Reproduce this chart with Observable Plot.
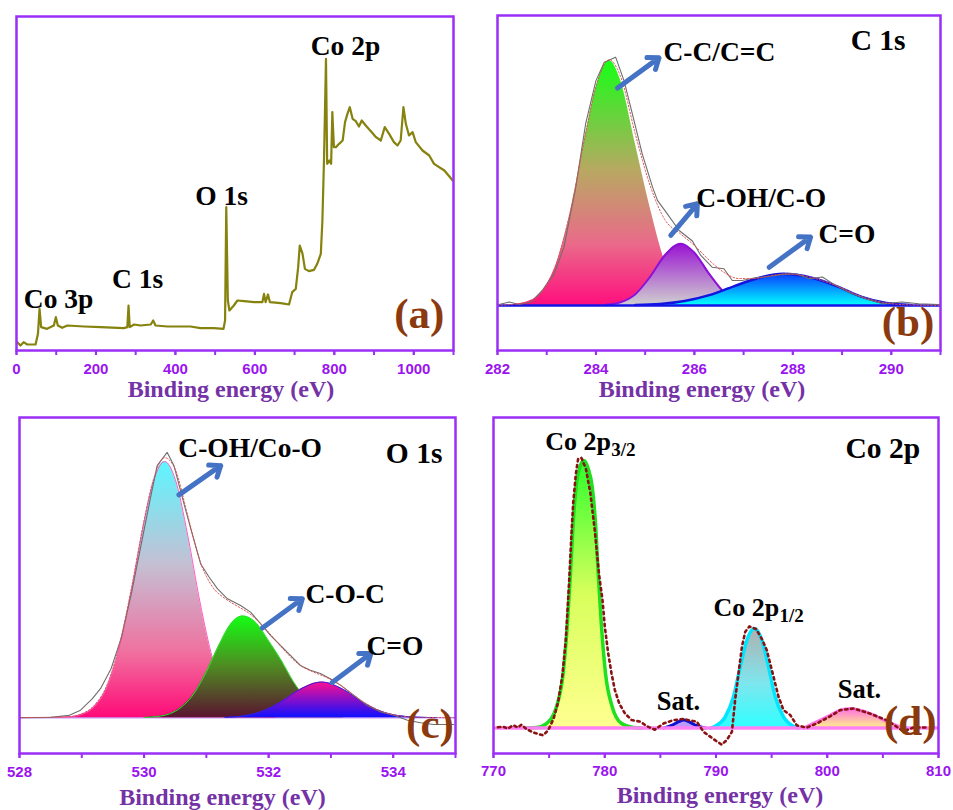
<!DOCTYPE html>
<html><head><meta charset="utf-8">
<script src="https://cdn.jsdelivr.net/npm/d3@7"></script>
<script src="https://cdn.jsdelivr.net/npm/@observablehq/plot@0.6"></script>
<style>
body{margin:0;background:#fff;}
#wrap{position:relative;width:953px;height:810px;overflow:hidden;background:#fff;}
#wrap svg{position:absolute;overflow:visible;}
</style></head><body><div id="wrap"></div>
<script>
// ---------- (a) survey ----------
const surveyBE = [2,10,18,27,48,54,58,62,77,94,99,104,115,128,170,212,270,279,282,285,296,312,338,344,350,380,438,463,497,521,525,528,532,536,547,556,573,598,619,623,627,633,638,665,686,694,703,709,713,720,726,736,749,757,766,770,774,777,779,782,788,792,795,799,804,812,821,827,833,839,846,854,862,869,879,892,905,917,927,938,950,959,967,974,980,988,997,1005,1022,1039,1051,1077,1098];
const surveyI = [2.5,1.5,2.5,1.8,1.8,5,12.5,7,6.5,7.5,10,7.5,6.8,7.5,7.2,7,6.7,7,13.5,7,7.8,7.5,7.8,9,7.5,7.2,7.2,6.7,6.7,6.5,9,43,15,12,13.5,15,14.8,14.5,14.5,17,14.5,16.8,14.5,14.2,13.8,17.5,18.5,25,31.5,29,24.5,23.8,24.2,26,29,39,57,75,87.5,56,57,56,71.5,61,61,62,63,68.5,71,73,69.5,68.8,67.2,69,67.5,65.8,64,63,67,65,62.5,61.5,63,73,68,64.5,65.5,62.5,60,58.5,56,54,51];
const labelsA = ["Co 3p","C 1s","O 1s","Co 2p"];
const labelsA_x = [106,305,516,828];
const labelsA_y = [12.8,18.9,43.8,88.8];

// ---------- (b) C 1s ----------
const rawB_BE = [282.03,282.24,282.44,282.68,282.91,283.15,283.35,283.59,283.79,284.0,284.17,284.4,284.57,284.74,284.94,285.15,285.25,285.45,285.69,285.96,286.13,286.36,286.6,286.77,286.97,287.24,287.52,287.79,288.06,288.33,288.6,288.87,289.14,289.48,289.82,290.22,290.56,290.97];
const rawB_I = [0.4,1.4,0.4,1.4,6.1,12.9,23.8,48.3,74.1,91.8,99.3,101.4,91.8,78.2,61.9,48.3,42.9,37.4,30.6,26.3,20.4,15.6,15.0,10.2,10.2,11.3,11.8,12.7,12.9,10.9,11.6,8.2,5.4,2.7,0.7,1.4,0.7,0.4];
const fitB_BE = [282.0,282.6,282.9,283.2,283.5,283.8,284.0,284.27,284.5,284.8,285.1,285.4,285.7,286.0,286.3,286.6,286.9,287.2,287.6,287.9,288.4,288.9,289.4,289.9,290.4,291.0];
const fitB_I = [0,1.4,5.6,17.3,40.2,71.1,89.2,100.3,93.5,70,49,35,29.5,24.5,18.5,13.5,11,11,12.3,12.9,11.3,7.9,3.6,1.0,0.2,0];
const ccB_BE = [282.3,282.6,282.9,283.2,283.5,283.8,284.0,284.27,284.5,284.8,285.1,285.4,285.7,286.0,286.3];
const ccB_I = [0.3,1.4,5.6,17.2,40,71,89,100,92,66,40,18,6,1.5,0.2];
const cohB_BE = [284.2,284.5,284.8,285.1,285.4,285.72,286.0,286.3,286.6,286.9,287.2];
const cohB_I = [0.25,1.3,4.6,11.7,20.5,25.2,21.5,12.9,5.4,1.6,0.3];
const coB_BE = [284.8,285.3,285.8,286.3,286.8,287.3,287.8,288.4,288.9,289.4,289.9,290.4];
const coB_I = [0.2,0.6,1.8,4.2,7.8,11.2,12.9,11.2,7.8,3.5,1.0,0.2];
const labelsB = ["C-C/C=C","C-OH/C-O","C=O"];
const labelsB_x = [285.37,286.04,288.52];
const labelsB_y = [100,40.1,25.4];
const arrowsB_x1 = [284.44,285.52,287.52], arrowsB_y1 = [88.8,28.6,15.6];
const arrowsB_x2 = [285.28,286.06,288.36], arrowsB_y2 = [101.1,41.5,27.9];

// ---------- (c) O 1s ----------
const rawC_BE = [528.0,528.5,528.8,528.98,529.17,529.3,529.47,529.63,529.79,529.95,530.11,530.21,530.37,530.48,530.62,530.75,530.91,531.04,531.18,531.34,531.55,531.71,531.87,532.03,532.19,532.35,532.51,532.67,532.83,532.99,533.16,533.37,533.58,533.8,534.01,534.23,534.44,534.65,534.97];
const rawC_I = [0,0.1,0.9,2.9,7.4,11.3,19.1,30.8,47.7,67.2,86.7,98.4,103.6,98.4,85.4,73.7,60,55,50.3,46.4,43.8,41.2,36.7,32.1,28.2,24.3,20.4,18.5,17.2,15.2,12.6,8.7,4.8,2.2,0.9,-1.0,-2.0,-2.7,-2.7];
const fitC_BE = [528,528.8,529.0,529.2,529.4,529.6,529.8,530.0,530.15,530.33,530.5,530.7,530.9,531.1,531.3,531.5,531.7,531.9,532.1,532.3,532.5,532.7,532.9,533.1,533.3,533.5,533.8,534.1,534.4,535];
const fitC_I = [0,0.4,1.5,4.8,12.5,28,51,77,93,101.5,97,79,61,51,46.5,43.5,40.5,36,30.5,25,20.5,18,16,13.5,10,6.5,2.6,0.7,0.15,0];
const c1_BE = [528.6,528.8,529.0,529.2,529.4,529.6,529.8,530.0,530.15,530.33,530.5,530.7,530.9,531.1,531.3,531.5,531.7,531.9,532.1];
const c1_I = [0.05,0.3,1.3,4.3,11.8,26.8,50,76.4,92.3,100,93.1,71.3,44.8,23.1,9.8,3.4,1.0,0.2,0.05];
const c2_BE = [530.0,530.2,530.5,530.8,531.0,531.2,531.4,531.58,531.8,532.0,532.2,532.4,532.6,532.8,533.0,533.2];
const c2_I = [0.1,0.4,2.5,9.4,17.9,28.2,36.8,39.7,37,30,22.5,14,7.5,3.5,1.2,0.3];
const c3_BE = [531.3,531.6,531.9,532.2,532.5,532.85,533.2,533.5,533.8,534.1,534.4,534.7];
const c3_I = [0.1,0.7,2.5,6.2,11,13.9,11,6.2,2.5,0.7,0.15,0.02];
const labelsC = ["C-OH/Co-O","C-O-C","C=O"];
const labelsC_x = [530.55,532.59,533.57];
const labelsC_y = [101.7,44.9,24.3];
const arrowsC_x1 = [530.56,531.9,533.02], arrowsC_y1 = [87,35,13.7];
const arrowsC_x2 = [531.23,532.54,533.64], arrowsC_y2 = [98.4,46.4,25];

// ---------- (d) Co 2p ----------
const rawD_BE = [770.4,770.87,771.3,771.77,772.2,772.52,772.97,773.57,774.17,774.47,774.92,775.4,775.8,776.2,776.5,776.8,777.0,777.16,777.4,777.61,777.9,778.3,778.7,779.1,779.5,779.8,780.01,780.31,780.61,780.91,781.3,781.81,782.41,783.19,783.79,784.5,785.28,786.18,787.1,787.7,788.28,788.88,789.48,790.08,790.53,790.98,791.43,791.72,792.02,792.33,792.63,793.0,793.6,794.1,794.57,795.17,795.62,796.07,796.67,797.27,798.17,799.1,800.3,801.16,802.36,803.86,805.36,806.85,807.75,808.96];
const rawD_I = [0.3,0.5,-0.2,1.1,0.2,1.3,-0.4,-1.6,-2.4,-2.7,-0.8,3.5,9.5,20,33,55,72,84,95,100.7,101,97,88,74,57,47.8,37.8,27.9,20.4,14.2,9.2,5.5,3.0,2.4,0.7,-0.6,1.7,3.0,3.4,2.8,2.4,-1.4,-3.2,-5.0,-6.2,-4.4,-1.4,10.5,20.4,30.4,36,38,37,33.5,29.1,19.2,11.7,6.7,4.9,1.0,0.2,1.8,4.5,6.7,7.3,5.4,2.9,-1.2,0.2,0.2];
const p32_BE = [773.0,773.87,774.76,775.66,776.26,776.62,776.92,777.16,777.46,777.82,778.12,778.51,778.87,779.17,779.41,779.71,780.07,780.67,781.51,782.56,783.3];
const p32_I = [0,0.2,1.7,8.0,20.4,37.8,57.8,76.5,91.4,98.2,100,97,90.2,76.5,57.8,37.8,20.4,8.0,1.7,0.2,0];
const sat1_BE = [785.28,786.0,786.6,787.08,787.6,788.2,789.03];
const sat1_I = [0,1.0,2.3,3.0,2.3,1.0,0];
const p12_BE = [789.5,789.93,790.83,791.57,792.18,792.78,793.46,794.12,794.72,795.32,796.07,796.97,797.4];
const p12_I = [0,0.7,4.2,11.7,22.9,32.9,37.2,32.9,22.9,11.7,4.2,0.7,0];
const sat2_BE = [797.87,799.07,800.27,801.16,802.06,802.96,804.16,805.36,806.85];
const sat2_I = [0,2.4,4.9,6.7,7.3,6.7,4.9,2.4,0];
const labelsD = ["Co 2p","Co 2p","Sat.","Sat."];
const labelsD_x = [774.65,789.78,786.63,802.9];
const labelsD_y = [103.8,41.9,6.7,11.1];
const subsD = ["3/2","1/2"];

const serif = "'Liberation Serif','Times New Roman',serif";
const sans = "'Liberation Sans',Arial,sans-serif";
const violet = "#9b2ff7";
const tickColor = "#9a14f0";
const brown = "#8b3a0f";
const arrowBlue = "#4472c4";
const zip = (xs, ys) => xs.map((x, i) => ({x, y: ys[i]}));
const range = (a, b, s) => d3.range(a, b + s / 2, s);

function addGradients(svg, grads) {
  const ns = "http://www.w3.org/2000/svg";
  const defs = document.createElementNS(ns, "defs");
  for (const g of grads) {
    const lg = document.createElementNS(ns, "linearGradient");
    lg.setAttribute("id", g.id);
    lg.setAttribute("x1", "0"); lg.setAttribute("y1", "0");
    lg.setAttribute("x2", "0"); lg.setAttribute("y2", "1");
    for (const [o, c] of g.stops) {
      const s = document.createElementNS(ns, "stop");
      s.setAttribute("offset", o); s.setAttribute("stop-color", c);
      lg.appendChild(s);
    }
    defs.appendChild(lg);
  }
  svg.insertBefore(defs, svg.firstChild);
}

function panel(o) {
  const svg = Plot.plot({
    width: o.width, height: o.height,
    marginLeft: o.m[0], marginRight: o.m[1], marginTop: o.m[2], marginBottom: o.m[3],
    x: {domain: o.xDomain, label: null},
    y: {domain: o.yDomain, axis: null, label: null},
    style: {background: "transparent", overflow: "visible"},
    marks: [
      ...o.marks,
      Plot.axisX({ticks: o.minor, tickSize: 5, tickFormat: () => "", color: violet, strokeWidth: 2, label: null}),
      Plot.axisX({ticks: o.major, tickSize: 5, tickPadding: o.tickPadding ?? 8, tickFormat: d => String(d), color: violet, fill: tickColor, strokeWidth: 2, fontSize: 15, fontWeight: "bold", fontFamily: sans, label: null}),
      Plot.text(["Binding energy (eV)"], {frameAnchor: "bottom", dx: o.titleDx, dy: o.titleDy, lineAnchor: "bottom", fontFamily: serif, fontWeight: "bold", fontSize: 24, fill: "#7432a6"}),
      Plot.frame({stroke: violet, strokeWidth: 2.5})
    ]
  });
  if (o.gradients) addGradients(svg, o.gradients);
  svg.style.left = o.left + "px";
  svg.style.top = o.top + "px";
  document.getElementById("wrap").appendChild(svg);
}

const lab = (data, extra) => Plot.text(data, {x: "x", y: "y", text: "t", lineAnchor: "bottom", fontFamily: serif, fontWeight: "bold", fontSize: 27.5, fill: "black", ...extra});
const arrows = (x1, y1, x2, y2) => Plot.arrow(x1.map((v, i) => ({x1: v, y1: y1[i], x2: x2[i], y2: y2[i]})), {x1: "x1", y1: "y1", x2: "x2", y2: "y2", stroke: arrowBlue, strokeWidth: 5, headLength: 3.6, headAngle: 75});
const letter = (t, x, y) => Plot.text([{t, x, y}], {x: "x", y: "y", text: "t", lineAnchor: "bottom", fontFamily: serif, fontWeight: "bold", fontSize: 43, fill: brown});
const titleLab = (t, x, y) => Plot.text([{t, x, y}], {x: "x", y: "y", text: "t", textAnchor: "end", lineAnchor: "bottom", fontFamily: serif, fontWeight: "bold", fontSize: 29.5, fill: "black"});
const withText = (ts, xs, ys) => ts.map((t, i) => ({t, x: xs[i], y: ys[i]}));

// (a)
panel({
  left: 0, top: 0, width: 476, height: 405, m: [16, 23, 16, 55],
  xDomain: [0, 1100], yDomain: [0, 100.2],
  major: range(0, 1000, 200), minor: range(0, 1100, 100),
  titleDx: -4, titleDy: 46,
  marks: [
    Plot.line(zip(surveyBE, surveyI), {x: "x", y: "y", stroke: "#86820e", strokeWidth: 2.2}),
    lab(withText(labelsA, labelsA_x, labelsA_y), {textAnchor: "middle"}),
    letter("(a)", 1014, 6.8)
  ]
});

// (b)
panel({
  left: 476, top: 0, width: 477, height: 405, m: [21, 13, 15, 55],
  xDomain: [282, 291], yDomain: [-18.4, 118.4],
  major: range(282, 290, 2), minor: range(282, 291, 1),
  titleDx: -17, titleDy: 46,
  gradients: [
    {id: "gb1", stops: [["0", "#16ff16"], ["0.45", "#b8a862"], ["0.75", "#ea6a8a"], ["1", "#ff0f7e"]]},
    {id: "gb2", stops: [["0", "#9a12d2"], ["1", "#cfcfcf"]]},
    {id: "gb3", stops: [["0", "#0a3cff"], ["1", "#00ffff"]]}
  ],
  marks: [
    Plot.areaY(zip(ccB_BE, ccB_I), {x: "x", y: "y", fill: "url(#gb1)", curve: "monotone-x"}),
    Plot.areaY(zip(cohB_BE, cohB_I), {x: "x", y: "y", fill: "url(#gb2)", curve: "monotone-x"}),
    Plot.line(zip(cohB_BE, cohB_I), {x: "x", y: "y", stroke: "#8c10d8", strokeWidth: 2, curve: "monotone-x"}),
    Plot.areaY(zip(coB_BE, coB_I), {x: "x", y: "y", fill: "url(#gb3)", curve: "monotone-x"}),
    Plot.line(zip(coB_BE, coB_I), {x: "x", y: "y", stroke: "#1414e0", strokeWidth: 2.5, curve: "monotone-x"}),
    Plot.ruleY([0], {stroke: "#1414e6", strokeWidth: 2.5}),
    Plot.line(zip(rawB_BE, rawB_I), {x: "x", y: "y", stroke: "#6e6e6e", strokeWidth: 1.1}),
    Plot.line(zip(fitB_BE, fitB_I), {x: "x", y: "y", stroke: "#e05050", strokeWidth: 1, strokeDasharray: "1.5 2", curve: "monotone-x"}),
    arrows(arrowsB_x1, arrowsB_y1, arrowsB_x2, arrowsB_y2),
    lab(withText(labelsB, labelsB_x, labelsB_y), {textAnchor: "start"}),
    titleLab("C 1s", 290.29, 104.4),
    letter("(b)", 290.34, -12.6)
  ]
});

// (c)
panel({
  left: 0, top: 405, width: 476, height: 405, m: [19, 21, 12, 57],
  xDomain: [528, 535], yDomain: [-14.0, 117.2],
  major: range(528, 534, 2), minor: range(528, 535, 1),
  titleDx: -15, titleDy: 51,
  gradients: [
    {id: "gc1", stops: [["0", "#5cf6ff"], ["0.4", "#c4c0d4"], ["0.75", "#f0709e"], ["1", "#ff0a78"]]},
    {id: "gc2", stops: [["0", "#14ff14"], ["0.5", "#4f8a22"], ["1", "#5a1430"]]},
    {id: "gc3", stops: [["0", "#ff0f90"], ["1", "#1010ff"]]}
  ],
  marks: [
    Plot.ruleY([0], {stroke: "#c89cff", strokeWidth: 1.5}),
    Plot.areaY(zip(c1_BE, c1_I), {x: "x", y: "y", fill: "url(#gc1)", curve: "monotone-x"}),
    Plot.line(zip(c1_BE, c1_I), {x: "x", y: "y", stroke: "#ff5cc0", strokeWidth: 1, curve: "monotone-x"}),
    Plot.areaY(zip(c2_BE, c2_I), {x: "x", y: "y", fill: "url(#gc2)", curve: "monotone-x"}),
    Plot.line(zip(c2_BE, c2_I), {x: "x", y: "y", stroke: "#30e030", strokeWidth: 1, curve: "monotone-x"}),
    Plot.areaY(zip(c3_BE, c3_I), {x: "x", y: "y", fill: "url(#gc3)", curve: "monotone-x"}),
    Plot.line(zip(c3_BE, c3_I), {x: "x", y: "y", stroke: "#3020e0", strokeWidth: 1, curve: "monotone-x"}),
    Plot.line(zip(rawC_BE, rawC_I), {x: "x", y: "y", stroke: "#6e6e6e", strokeWidth: 1.1}),
    Plot.line(zip(fitC_BE, fitC_I), {x: "x", y: "y", stroke: "#e05050", strokeWidth: 1, strokeDasharray: "1.5 2", curve: "monotone-x"}),
    arrows(arrowsC_x1, arrowsC_y1, arrowsC_x2, arrowsC_y2),
    lab(withText(labelsC, labelsC_x, labelsC_y), {textAnchor: "start"}),
    titleLab("O 1s", 534.79, 99.5),
    letter("(c)", 534.59, -7.9)
  ]
});

// (d)
panel({
  left: 476, top: 405, width: 477, height: 405, m: [17, 15, 12, 57],
  xDomain: [770, 810], yDomain: [-9.5, 116.1],
  major: range(770, 810, 10), minor: range(770, 810, 5),
  tickPadding: 7,
  titleDx: 4, titleDy: 49,
  gradients: [
    {id: "gd1", stops: [["0", "#2cff2c"], ["0.5", "#d8ff5c"], ["1", "#ffff90"]]},
    {id: "gd2", stops: [["0", "#b0b0b0"], ["0.55", "#7ee6ee"], ["1", "#30ffff"]]},
    {id: "gd3", stops: [["0", "#ff6ee0"], ["1", "#fff08c"]]}
  ],
  marks: [
    Plot.areaY(zip(p32_BE, p32_I), {x: "x", y: "y", fill: "url(#gd1)", curve: "monotone-x"}),
    Plot.line(zip(p32_BE, p32_I), {x: "x", y: "y", stroke: "#1fe01f", strokeWidth: 3.5, curve: "monotone-x"}),
    Plot.areaY(zip(sat1_BE, sat1_I), {x: "x", y: "y", fill: "#b89cff", curve: "monotone-x"}),
    Plot.line(zip(sat1_BE, sat1_I), {x: "x", y: "y", stroke: "#1010d0", strokeWidth: 3, curve: "monotone-x"}),
    Plot.areaY(zip(p12_BE, p12_I), {x: "x", y: "y", fill: "url(#gd2)", curve: "monotone-x"}),
    Plot.line(zip(p12_BE, p12_I), {x: "x", y: "y", stroke: "#00e6ff", strokeWidth: 3.5, curve: "monotone-x"}),
    Plot.areaY(zip(sat2_BE, sat2_I), {x: "x", y: "y", fill: "url(#gd3)", curve: "monotone-x"}),
    Plot.line(zip(sat2_BE, sat2_I), {x: "x", y: "y", stroke: "#ff72e6", strokeWidth: 3, curve: "monotone-x"}),
    Plot.ruleY([0], {stroke: "#ff80f4", strokeWidth: 3.5}),
    Plot.line(zip(rawD_BE, rawD_I), {x: "x", y: "y", stroke: "#8a1212", strokeWidth: 2.6, strokeDasharray: "2.4 3.6"}),
    lab(withText(labelsD.slice(0, 2), labelsD_x.slice(0, 2), labelsD_y.slice(0, 2)), {textAnchor: "start", fontSize: 26}),
    Plot.text(withText(subsD, labelsD_x.slice(0, 2), labelsD_y.slice(0, 2)), {x: "x", y: "y", text: "t", textAnchor: "start", lineAnchor: "bottom", dx: 66, dy: 6, fontFamily: serif, fontWeight: "bold", fontSize: 19, fill: "black"}),
    lab(withText(labelsD.slice(2), labelsD_x.slice(2), labelsD_y.slice(2)), {textAnchor: "middle", fontSize: 26.5}),
    titleLab("Co 2p", 808.35, 101),
    letter("(d)", 807.46, -2.4)
  ]
});
</script></body></html>
